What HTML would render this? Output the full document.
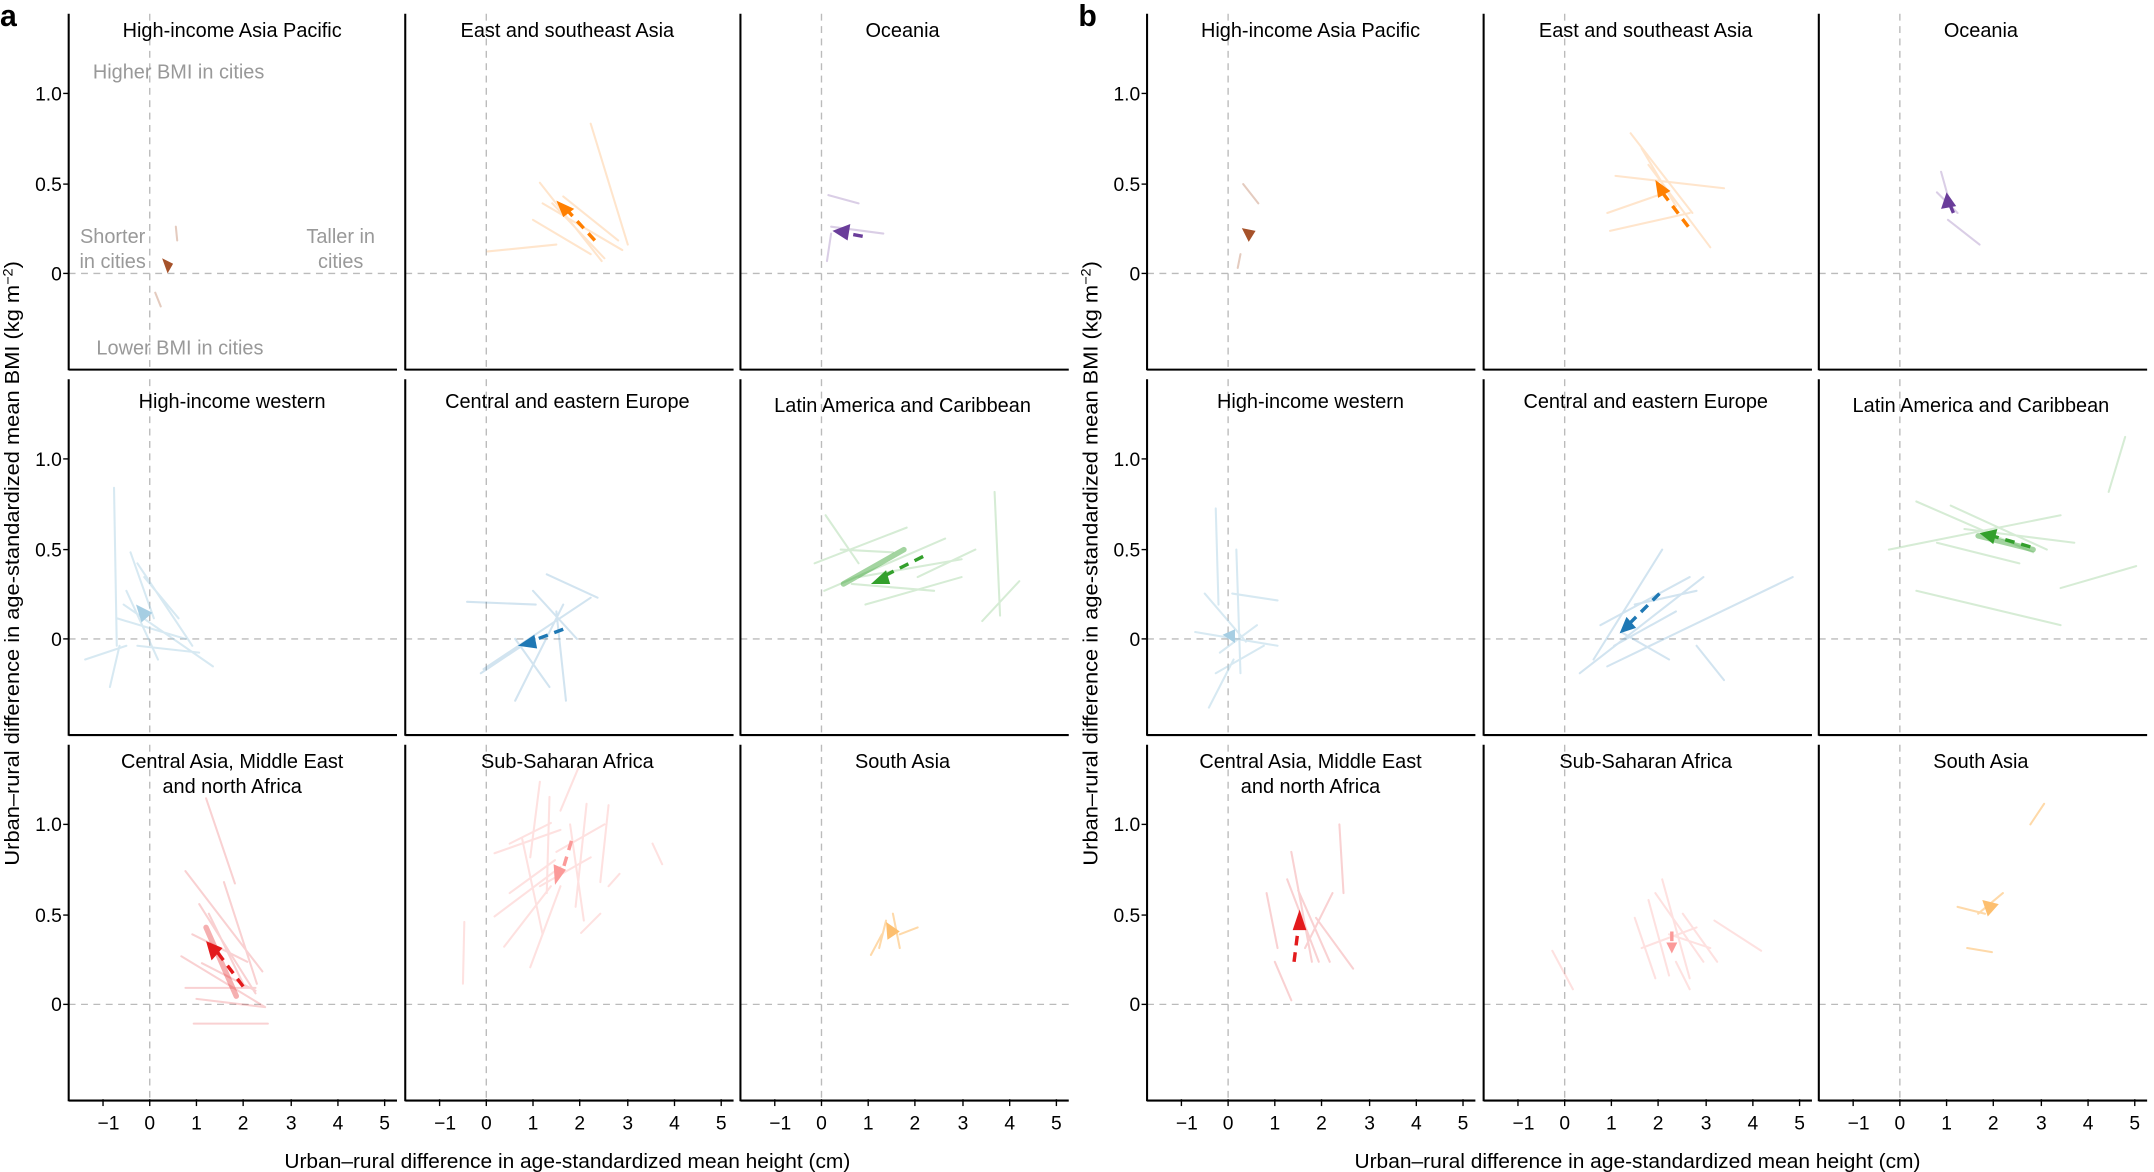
<!DOCTYPE html>
<html><head><meta charset="utf-8"><style>
html,body{margin:0;padding:0;background:#fff;}
svg{display:block;font-family:"Liberation Sans",Arial,sans-serif;}
</style></head><body>
<svg width="2154" height="1172" viewBox="0 0 1568 853" preserveAspectRatio="none" xmlns="http://www.w3.org/2000/svg">
<defs>
<g id="frame">
 <line x1="109" y1="10" x2="109" y2="269" stroke="#bbb" stroke-width="1" stroke-dasharray="5,4"/>
 <line x1="50" y1="199" x2="289" y2="199" stroke="#bbb" stroke-width="1" stroke-dasharray="5,4"/>
 <line x1="50" y1="10" x2="50" y2="269.5" stroke="#000" stroke-width="1.5"/>
 <line x1="50" y1="269" x2="289" y2="269" stroke="#000" stroke-width="1.5"/>
</g>
<g id="yt" font-size="14" text-anchor="end" fill="#000">
 <line x1="46" y1="68" x2="50" y2="68" stroke="#000"/><line x1="46" y1="134" x2="50" y2="134" stroke="#000"/><line x1="46" y1="199" x2="50" y2="199" stroke="#000"/>
 <text x="45" y="73">1.0</text><text x="45" y="139">0.5</text><text x="45" y="204">0</text>
</g>
<g id="xt" font-size="14" text-anchor="middle" fill="#000">
 <g stroke="#000"><line x1="75" y1="800" x2="75" y2="805"/><line x1="109" y1="800" x2="109" y2="805"/><line x1="143" y1="800" x2="143" y2="805"/><line x1="177" y1="800" x2="177" y2="805"/><line x1="212" y1="800" x2="212" y2="805"/><line x1="246" y1="800" x2="246" y2="805"/><line x1="280" y1="800" x2="280" y2="805"/></g>
 <text x="79" y="822">−1</text><text x="109" y="822">0</text><text x="143" y="822">1</text><text x="177" y="822">2</text><text x="212" y="822">3</text><text x="246" y="822">4</text><text x="280" y="822">5</text>
</g>
</defs>

<g id="pa">
<use href="#frame"/><use href="#frame" transform="translate(245,0)"/><use href="#frame" transform="translate(489,0)"/>
<use href="#frame" transform="translate(0,266)"/><use href="#frame" transform="translate(245,266)"/><use href="#frame" transform="translate(489,266)"/>
<use href="#frame" transform="translate(0,532)"/><use href="#frame" transform="translate(245,532)"/><use href="#frame" transform="translate(489,532)"/>
<use href="#yt"/><use href="#yt" transform="translate(0,266)"/><use href="#yt" transform="translate(0,532)"/>
<use href="#xt"/><use href="#xt" transform="translate(245,0)"/><use href="#xt" transform="translate(489,0)"/>
</g>
<use href="#pa" transform="translate(785,0)"/>

<text x="0" y="19" font-size="22" font-weight="bold">a</text>
<text x="785" y="19" font-size="22" font-weight="bold">b</text>

<g font-size="14.5" text-anchor="middle" fill="#000">
<text x="169" y="27">High-income Asia Pacific</text><text x="413" y="27">East and southeast Asia</text><text x="657" y="27">Oceania</text>
<text x="169" y="297">High-income western</text><text x="413" y="297">Central and eastern Europe</text><text x="657" y="300">Latin America and Caribbean</text>
<text x="169" y="559">Central Asia, Middle East</text><text x="169" y="577">and north Africa</text><text x="413" y="559">Sub-Saharan Africa</text><text x="657" y="559">South Asia</text>
<text x="954" y="27">High-income Asia Pacific</text><text x="1198" y="27">East and southeast Asia</text><text x="1442" y="27">Oceania</text>
<text x="954" y="297">High-income western</text><text x="1198" y="297">Central and eastern Europe</text><text x="1442" y="300">Latin America and Caribbean</text>
<text x="954" y="559">Central Asia, Middle East</text><text x="954" y="577">and north Africa</text><text x="1198" y="559">Sub-Saharan Africa</text><text x="1442" y="559">South Asia</text>
</g>
<g font-size="14.5" text-anchor="middle" fill="#999">
<text x="130" y="57">Higher BMI in cities</text><text x="131" y="258">Lower BMI in cities</text>
<text x="82" y="177">Shorter</text><text x="82" y="195">in cities</text>
<text x="248" y="177">Taller in</text><text x="248" y="195">cities</text>
</g>
<g font-size="15" fill="#000">
<text transform="translate(14,410) rotate(-90)" text-anchor="middle" textLength="440" lengthAdjust="spacingAndGlyphs">Urban–rural difference in age-standardized mean BMI (kg m<tspan dy="-5" font-size="10">−2</tspan><tspan dy="5">)</tspan></text>
<text transform="translate(799,410) rotate(-90)" text-anchor="middle" textLength="440" lengthAdjust="spacingAndGlyphs">Urban–rural difference in age-standardized mean BMI (kg m<tspan dy="-5" font-size="10">−2</tspan><tspan dy="5">)</tspan></text>
<text x="413" y="850" text-anchor="middle" textLength="412" lengthAdjust="spacingAndGlyphs">Urban–rural difference in age-standardized mean height (cm)</text>
<text x="1192" y="850" text-anchor="middle" textLength="412" lengthAdjust="spacingAndGlyphs">Urban–rural difference in age-standardized mean height (cm)</text>
</g>

<g stroke-width="1.5" stroke-opacity="0.3" fill="none" stroke-linecap="round">
<g stroke="#a6522a"><path d="M128 165L129 175M113 213L117 223M905 134L916 148M901 195L903 185"/></g>
<g stroke="#ff7f00" stroke-opacity="0.2"><path d="M430 90L457 178M355 183L405 178M395 148L453 182M393 133L438 190M402 148L440 188M388 160L430 185M410 143L450 175M1187 97L1232 155M1176 128L1255 137M1170 155L1213 140M1172 168L1230 155M1200 120L1245 180M1195 108L1220 150"/></g>
<g stroke="#6a3d9a" stroke-opacity="0.25"><path d="M603 142L625 148M605 165L643 170M602 190L605 170M1413 125L1420 150M1418 160L1441 178M1410 140L1425 155"/></g>
<g stroke="#a6cee3" stroke-opacity="0.45"><path d="M83 355L85 470M95 402L112 450M62 480L92 470M80 500L87 470M100 410L140 470M90 440L155 485M105 420L130 450M85 450L135 465M92 430L115 480M100 470L145 475M885 370L887 440M877 432L907 467M880 515L898 480M870 460L930 470M897 432L930 437M888 475L915 455M900 400L903 490M885 490L920 470"/></g>
<g stroke="#1f78b4" stroke-opacity="0.2"><path d="M340 438L390 440M350 490L380 470M375 510L410 440M352 487L430 435M398 418L435 435M375 465L400 500M388 430L420 465M405 445L412 510M1150 490L1240 420M1160 480L1210 400M1175 470L1220 445M1170 485L1305 420M1165 455L1230 420M1235 470L1255 495M1190 440L1235 430M1180 460L1215 480"/></g>
<g stroke="#33a02c" stroke-opacity="0.2"><path d="M593 410L660 384M600 430L688 392M625 420L700 407M630 440L700 420M612 400L650 402M668 420L710 400M715 452L742 423M724 358L728 448M601 375L625 410M620 425L680 430M1375 400L1500 375M1395 365L1480 402M1420 368L1490 400M1395 430L1500 455M1500 428L1555 412M1535 358L1547 318M1430 385L1510 395M1410 395L1470 410"/></g>
<g stroke="#33a02c" stroke-opacity="0.45" stroke-width="4"><path d="M614 425L658 400M1440 390L1480 400"/></g>
<g stroke="#e31a1c" stroke-opacity="0.2"><path d="M150 581L171 643M135 634L191 707M145 658L186 723M132 696L193 733M141 745L195 745M135 719L186 719M143 727L193 733M152 665L178 718M163 642L187 716M147 701L186 721M140 680L180 700M975 600L978 650M922 650L930 690M937 640L960 700M928 700L940 728M945 648L968 700M958 668L985 705M950 690L970 650M940 620L955 700"/></g>
<g stroke="#e31a1c" stroke-opacity="0.35" stroke-width="4"><path d="M150 675L172 725"/></g>
<g stroke="#fb9a99" stroke-opacity="0.3"><path d="M421 559L408 590M393 569L386 624M371 614L401 599M360 621L408 604M371 650L404 626M360 667L408 631M367 689L401 645M386 704L408 645M427 585L419 660M443 586L437 642M451 636L443 645M423 679L437 665M338 671L337 716M475 614L482 629M393 645L430 624M400 580L398 650M415 600L425 670M380 610L395 680M405 620L440 600M1130 692L1145 720M1200 655L1215 710M1210 640L1230 712M1190 668L1205 712M1225 665L1250 700M1248 670L1282 692M1215 680L1245 690M1220 700L1230 720M1205 650L1240 700M1195 690L1235 675"/></g>
<g stroke="#fdbf6f" stroke-opacity="0.6"><path d="M650 665L655 690M640 690L645 670M655 680L668 675M634 695L642 680M1478 600L1488 585M1432 690L1450 693M1440 665L1458 650M1425 660L1445 665"/></g>
</g>

<g stroke-width="2.5" stroke-dasharray="7,5" fill="none">
<path stroke="#ff7f00" d="M433 175L412 152M1229 165L1210 140"/>
<path stroke="#1f78b4" d="M410 458L386 467M1208 432L1186 454"/>
<path stroke="#33a02c" d="M672 405L642 420M1478 398L1450 390"/>
<path stroke="#e31a1c" d="M177 718L156 690M942 700L945 676"/>
<path stroke="#fb9a99" d="M416 612L410 632M1217 678L1217 690"/>
<path stroke="#6a3d9a" d="M628 172L612 169M1422 155L1419 148"/>
</g>
<g>
<polygon fill="#a6522a" points="118,188 126,192 122,199" />
<polygon fill="#a6522a" points="904,166 914,168 909,176"/>
<polygon fill="#ff7f00" points="405,146 418,152 410,158"/>
<polygon fill="#ff7f00" points="1205,131 1216,139 1207,144"/>
<polygon fill="#6a3d9a" points="606,168 619,163 617,175"/>
<polygon fill="#6a3d9a" points="1417,140 1424,150 1413,152"/>
<polygon fill="#a6cee3" points="99,440 111,446 103,453"/>
<polygon fill="#a6cee3" points="890,462 899,458 899,468"/>
<polygon fill="#1f78b4" points="377,470 389,462 391,472"/>
<polygon fill="#1f78b4" points="1179,461 1184,449 1191,457"/>
<polygon fill="#33a02c" points="634,425 645,415 648,425"/>
<polygon fill="#33a02c" points="1441,388 1454,385 1451,396"/>
<polygon fill="#e31a1c" points="150,685 162,690 154,699"/>
<polygon fill="#e31a1c" points="946,662 951,677 941,677"/>
<polygon fill="#fb9a99" points="404,644 403,629 412,633"/>
<polygon fill="#fb9a99" points="1217,694 1213,686 1221,686"/>
<polygon fill="#fdbf6f" points="655,678 645,671 646,684"/>
<polygon fill="#fdbf6f" points="1455,658 1443,655 1447,667"/>
</g>
</svg>
</body></html>
